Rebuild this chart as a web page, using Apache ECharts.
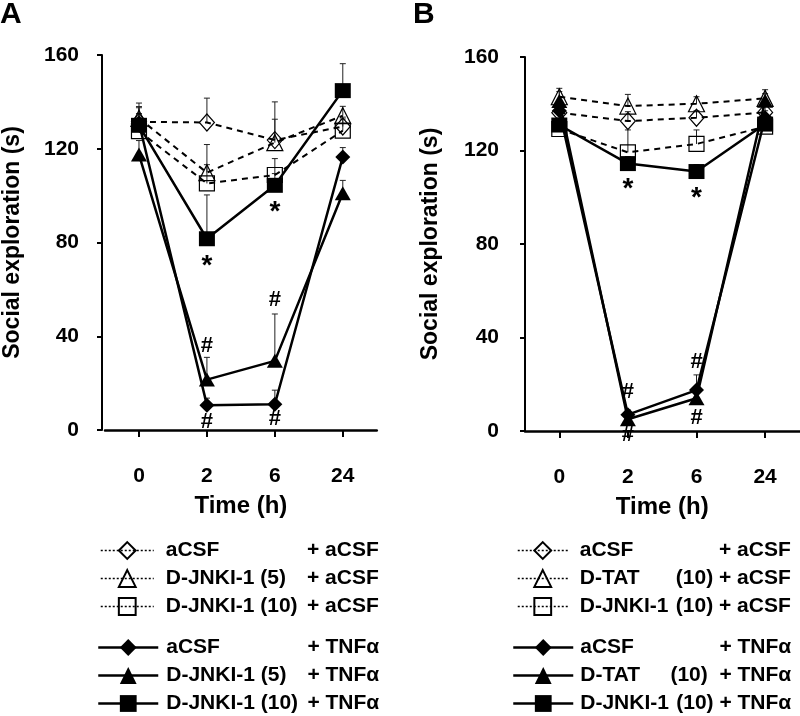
<!DOCTYPE html>
<html>
<head>
<meta charset="utf-8">
<script src="https://cdn.jsdelivr.net/npm/echarts@6/dist/echarts.min.js"></script>
<style>
html,body{margin:0;padding:0;background:#fff;}
#chart{width:800px;height:716px;}
</style>
</head>
<body>
<div id="chart"></div>
<script>
// ---------- data ----------
const timeCats = ['0', '2', '6', '24'];
const yTicks = [0, 40, 80, 120, 160];

// Panel A means (s)
const aAcsfAcsf = [131.5, 131.2, 123.7, 129.5];
const aJnk5Acsf = [133, 109.8, 122.6, 134.1];
const aJnk10Acsf = [127.5, 105.2, 108.8, 127.7];
const aAcsfTnf = [131, 10.6, 11, 116.5];
const aJnk5Tnf = [117.5, 21.5, 29.5, 101];
const aJnk10Tnf = [130, 81.6, 104.4, 144.8];
// Panel A SEM
const aAcsfAcsfErr = [8, 10.4, 16.3, 4];
const aJnk5AcsfErr = [5, 12, 10, 4];
const aJnk10AcsfErr = [6, 8, 7, 5];
const aAcsfTnfErr = [4, 3, 6, 4];
const aJnk5TnfErr = [6, 9.5, 20, 5.5];
const aJnk10TnfErr = [7.5, 18.7, 5, 11.5];

// Panel B means (s)
const bAcsfAcsf = [136.2, 132.6, 134, 136.3];
const bTatAcsf = [143, 139, 140, 142.3];
const bJnkAcsf = [129.2, 119.2, 122.8, 130.2];
const bAcsfTnf = [137, 7, 17.5, 134];
const bTatTnf = [141.2, 5, 14, 141.3];
const bJnkTnf = [130.9, 114.4, 111, 131.3];
// Panel B SEM
const bAcsfAcsfErr = [3, 4, 3, 3];
const bTatAcsfErr = [3.6, 5, 3, 3.7];
const bJnkAcsfErr = [4, 9.6, 6, 3];
const bAcsfTnfErr = [3, 2, 6.5, 3];
const bTatTnfErr = [4, 2, 2, 3];
const bJnkTnfErr = [3, 3, 3, 3];

// significance marks
const annotACat = ['2', '6', '2', '2', '6', '6'];
const annotAVal = [72.5, 95.3, 36, 3.5, 55.5, 4.6];
const annotAText = ['*', '*', '#', '#', '#', '#'];
const annotBCat = ['2', '6', '2', '2', '6', '6'];
const annotBVal = [106, 102, 16.6, -1.7, 29.6, 5.7];
const annotBText = ['*', '*', '#', '#', '#', '#'];

// legend labels [left part, right part]
const legendA = [['aCSF', '+ aCSF'], ['D-JNKI-1 (5)', '+ aCSF'], ['D-JNKI-1 (10)', '+ aCSF'],
                 ['aCSF', '+ TNFα'], ['D-JNKI-1 (5)', '+ TNFα'], ['D-JNKI-1 (10)', '+ TNFα']];
const legendB = [['aCSF', '+ aCSF'], ['D-TAT', '(10) + aCSF'], ['D-JNKI-1', '(10) + aCSF'],
                 ['aCSF', '+ TNFα'], ['D-TAT', '(10)  + TNFα'], ['D-JNKI-1', '(10) + TNFα']];

const panelLabels = ['A', 'B'];
const xName = 'Time (h)';
const yName = 'Social exploration (s)';

// ---------- build ----------
const FONT = '"Liberation Sans", Arial, Helvetica, sans-serif';
const chart = echarts.init(document.getElementById('chart'), null, {renderer: 'canvas'});

const symbols = ['diamond', 'triangle', 'rect', 'diamond', 'triangle', 'rect'];
const sizes = [[15, 17], [16, 16], [15, 15], [15, 15], [16, 14], [16, 15]];

function lineSeries(name, gi, data, idx) {
  const open = idx < 3;
  return {
    name: name, type: 'line', xAxisIndex: gi, yAxisIndex: gi,
    data: data, symbol: symbols[idx], symbolSize: sizes[idx],
    z: open ? 3 : 4,
    lineStyle: open ? {color: '#000', width: 2, type: [6, 5]} : {color: '#000', width: 2.5, type: 'solid'},
    itemStyle: open ? {color: 'rgba(255,255,255,0)', borderColor: '#000', borderWidth: 1.2}
                    : {color: '#000', borderColor: '#000', borderWidth: 0},
    emphasis: {disabled: true},
    silent: true
  };
}

function errSeries(gi, means, errs) {
  return {
    type: 'custom', xAxisIndex: gi, yAxisIndex: gi, z: 2, silent: true,
    data: means.map((m, i) => [i, m, m + errs[i]]),
    encode: {x: 0, y: [1, 2]},
    renderItem: function (params, api) {
      const p0 = api.coord([api.value(0), api.value(1)]);
      const p1 = api.coord([api.value(0), api.value(2)]);
      const st = {stroke: '#222', lineWidth: 1};
      return {type: 'group', children: [
        {type: 'line', shape: {x1: p0[0], y1: p0[1], x2: p1[0], y2: p1[1]}, style: st},
        {type: 'line', shape: {x1: p1[0] - 3, y1: p1[1], x2: p1[0] + 3, y2: p1[1]}, style: st}
      ]};
    }
  };
}

function annotSeries(gi, cats, vals, texts) {
  return {
    type: 'scatter', xAxisIndex: gi, yAxisIndex: gi, z: 6, silent: true, clip: false,
    symbolSize: 1, itemStyle: {color: 'rgba(0,0,0,0)', opacity: 1},
    data: cats.map((c, i) => ({
      value: [c, vals[i]],
      label: texts[i] === '*'
        ? {show: true, position: 'inside', formatter: '*', fontSize: 28, fontWeight: 'bold', fontFamily: FONT, color: '#000', opacity: 1, offset: [0, 6]}
        : {show: true, position: 'inside', formatter: '#', fontSize: 22, fontWeight: 'bold', fontFamily: FONT, color: '#000', opacity: 1, offset: [0, 0]}
    }))
  };
}

const aSeriesData = [aAcsfAcsf, aJnk5Acsf, aJnk10Acsf, aAcsfTnf, aJnk5Tnf, aJnk10Tnf];
const aErrData = [aAcsfAcsfErr, aJnk5AcsfErr, aJnk10AcsfErr, aAcsfTnfErr, aJnk5TnfErr, aJnk10TnfErr];
const bSeriesData = [bAcsfAcsf, bTatAcsf, bJnkAcsf, bAcsfTnf, bTatTnf, bJnkTnf];
const bErrData = [bAcsfAcsfErr, bTatAcsfErr, bJnkAcsfErr, bAcsfTnfErr, bTatTnfErr, bJnkTnfErr];

const namesA = ['A1', 'A2', 'A3', 'A4', 'A5', 'A6'];
const namesB = ['B1', 'B2', 'B3', 'B4', 'B5', 'B6'];
const labelMap = {};
namesA.forEach((n, i) => labelMap[n] = legendA[i]);
namesB.forEach((n, i) => labelMap[n] = legendB[i]);

const series = [];
aErrData.forEach((e, i) => series.push(errSeries(0, aSeriesData[i], e)));
bErrData.forEach((e, i) => series.push(errSeries(1, bSeriesData[i], e)));
aSeriesData.forEach((d, i) => series.push(lineSeries(namesA[i], 0, d, i)));
bSeriesData.forEach((d, i) => series.push(lineSeries(namesB[i], 1, d, i)));
series.push(annotSeries(0, annotACat, annotAVal, annotAText));
series.push(annotSeries(1, annotBCat, annotBVal, annotBText));

function makeLegend(names, left, top, itemWidth, dotted, lW, rW, sp) {
  const txt = {fontSize: 21, fontWeight: 'bold', fontFamily: FONT, color: '#000', lineHeight: 20};
  return {
    data: names, orient: 'vertical', left: left, top: top, padding: 0,
    itemWidth: itemWidth, itemHeight: 21, itemGap: 7, selectedMode: false,
    lineStyle: dotted ? {type: [2, 2], width: 1.5, color: '#000'} : {type: 'solid', width: 2.5, color: '#000'},
    formatter: function (name) {
      const lab = labelMap[name];
      return '{sp| }{l|' + lab[0] + '}{r|' + lab[1] + '}';
    },
    textStyle: {
      fontSize: 21, fontWeight: 'bold', fontFamily: FONT, color: '#000',
      rich: {
        sp: Object.assign({}, txt, {width: sp}),
        l: Object.assign({}, txt, {width: lW}),
        r: Object.assign({}, txt, {width: rW, align: 'right'})
      }
    }
  };
}

function xAxisFor(gi) {
  return {
    type: 'category', gridIndex: gi, data: timeCats, boundaryGap: true, offset: 12,
    axisLine: {show: true, lineStyle: {color: '#000', width: 2.5}},
    axisTick: {show: true, alignWithLabel: true, length: 7, lineStyle: {color: '#000', width: 2}},
    axisLabel: {fontSize: 21, fontWeight: 'bold', fontFamily: FONT, color: '#000', margin: 24},
    splitLine: {show: false},
    name: xName, nameLocation: 'middle', nameGap: 52,
    nameTextStyle: {fontSize: 24, fontWeight: 'bold', fontFamily: FONT, color: '#000'}
  };
}
function yAxisFor(gi, offset, margin, nameGap) {
  return {
    type: 'value', gridIndex: gi, min: yTicks[0], max: yTicks[yTicks.length - 1],
    interval: yTicks[1] - yTicks[0], offset: offset,
    axisLine: {show: true, lineStyle: {color: '#000', width: 2}},
    axisTick: {show: true, length: 5, lineStyle: {color: '#000', width: 2}},
    axisLabel: {fontSize: 21, fontWeight: 'bold', fontFamily: FONT, color: '#000', margin: margin},
    splitLine: {show: false},
    name: yName, nameLocation: 'middle', nameGap: nameGap, nameRotate: 90,
    nameTextStyle: {fontSize: 23, fontWeight: 'bold', fontFamily: FONT, color: '#000'}
  };
}

const option = {
  animation: false,
  backgroundColor: '#fff',
  textStyle: {fontFamily: FONT},
  grid: [
    {left: 102.75, top: 55, width: 274, height: 375, containLabel: false},
    {left: 525, top: 57, width: 274.4, height: 374, containLabel: false}
  ],
  xAxis: [xAxisFor(0), xAxisFor(1)],
  yAxis: [yAxisFor(0, 3, 23, 78), yAxisFor(1, 0, 26, 83)],
  legend: [
    makeLegend(namesA.slice(0, 3), 100, 540, 53, true, 140, 73, 7),
    makeLegend(namesA.slice(3), 97, 637, 60, false, 140, 73, 3),
    makeLegend(namesB.slice(0, 3), 517, 540, 50, true, 96, 115, 7),
    makeLegend(namesB.slice(3), 512, 637, 60, false, 96, 115, 2)
  ],
  graphic: [
    {type: 'text', left: 0, top: 0, style: {text: panelLabels[0], fontSize: 30, fontWeight: 'bold', fontFamily: FONT, fill: '#000'}},
    {type: 'text', left: 413, top: 0, style: {text: panelLabels[1], fontSize: 30, fontWeight: 'bold', fontFamily: FONT, fill: '#000'}}
  ],
  series: series
};
chart.setOption(option);
</script>
</body>
</html>
